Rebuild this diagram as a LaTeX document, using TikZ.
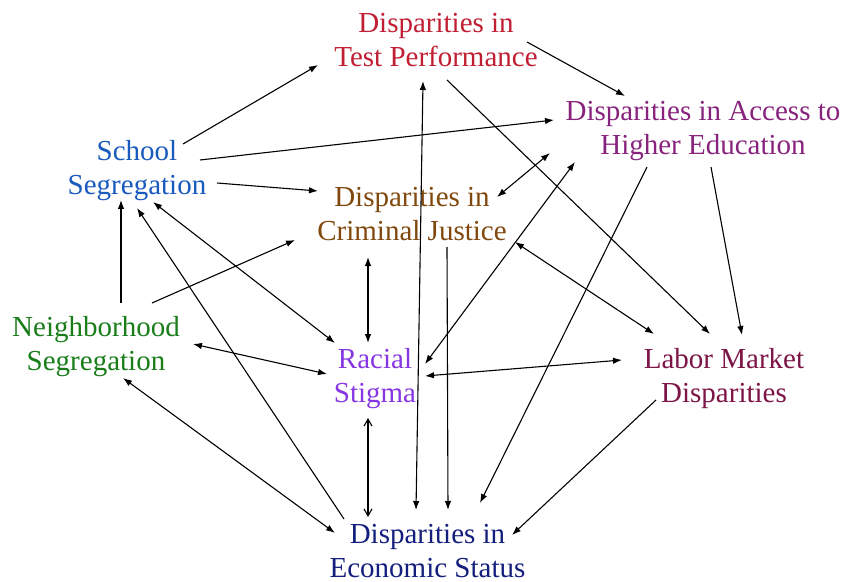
\documentclass[tikz,border=0pt]{standalone}
\usepackage{fontspec}
\setmainfont{Liberation Serif}
\usetikzlibrary{arrows.meta,calc}
\definecolor{cTP}{RGB}{192,30,50}
\definecolor{cAHE}{RGB}{135,35,125}
\definecolor{cSS}{RGB}{25,90,190}
\definecolor{cCJ}{RGB}{128,72,12}
\definecolor{cNS}{RGB}{25,125,25}
\definecolor{cRS}{RGB}{135,55,225}
\definecolor{cLM}{RGB}{125,20,70}
\definecolor{cES}{RGB}{20,30,125}
\tikzset{
  lbl/.style={align=center,inner sep=0pt,font=\fontsize{29bp}{34bp}\selectfont},
  conn/.style={line width=1.1bp,-{Latex[length=9bp,width=6.5bp]}},
  bconn/.style={line width=1.1bp,{Latex[length=9bp,width=6.5bp]}-{Latex[length=9bp,width=6.5bp]}},
  oconn/.style={line width=1.1bp,{Straight Barb[length=7bp,width=8bp]}-{Straight Barb[length=7bp,width=8bp]}}
}
\begin{document}
\begin{tikzpicture}[x=1bp,y=-1bp]
\useasboundingbox (0,0) rectangle (845,582);
\node[lbl,text=cTP]  (TP)  at (436,40.5) {Disparities in\\Test Performance};
\node[lbl,text=cAHE] (AHE) at (703,131.5) {Disparities in Access to\\Higher Education};
\node[lbl,text=cSS]  (SS)  at (137,171) {School\\Segregation};
\node[lbl,text=cCJ]  (CJ)  at (412,214.5) {Disparities in\\Criminal Justice};
\node[lbl,text=cNS]  (NS)  at (96,347) {Neighborhood\\Segregation};
\node[lbl,text=cRS]  (RS)  at (375,378.5) {Racial\\Stigma};
\node[lbl,text=cLM]  (LM)  at (724,379) {Labor Market\\Disparities};
\node[lbl,text=cES]  (ES)  at (427.5,551) {Disparities in\\Economic Status};

% one-way
\draw[conn] ($(SS)+(46,-27)$) -- ($(TP)+(-118,24.5)$);
\draw[conn] ($(TP)+(91,1.5)$) -- ($(AHE)+(-78,-35.5)$);
\draw[conn] ($(SS)+(63,-11)$) -- ($(AHE)+(-149,-11.5)$);
\draw[conn] ($(SS)+(80,12)$) -- ($(CJ)+(-94,-23.5)$);
\draw[conn] ($(TP)+(11,39.5)$) -- ($(LM)+(-14,-45)$);
\draw[conn] ($(CJ)+(35,32.5)$) -- ($(ES)+(20.5,-41)$);
\draw[conn] ($(AHE)+(-56,35.5)$) -- ($(ES)+(52.5,-48)$);
\draw[conn] ($(AHE)+(8,35.5)$) -- ($(LM)+(18,-44)$);
\draw[conn] ($(NS)+(25,-44)$) -- ($(SS)+(-16,29)$);
\draw[conn] ($(NS)+(56,-44)$) -- ($(CJ)+(-117,25.5)$);
\draw[conn] ($(ES)+(-83.5,-32)$) -- ($(SS)+(0,37)$);
\draw[conn] ($(LM)+(-68,21)$) -- ($(ES)+(84.5,-16)$);
% two-way
\draw[bconn] ($(TP)+(-13,40.5)$) -- ($(ES)+(-11.5,-41)$);
\draw[bconn] ($(SS)+(16,31)$) -- ($(RS)+(-40,-35.5)$);
\draw[bconn] ($(NS)+(97,-3)$) -- ($(RS)+(-48,-4.5)$);
\draw[bconn] ($(NS)+(27,31)$) -- ($(ES)+(-92.5,-18)$);
\draw[bconn] ($(CJ)+(-44,42.5)$) -- ($(RS)+(-7,-35.5)$);
\draw[bconn] ($(CJ)+(85,-17.5)$) -- ($(AHE)+(-153,21.5)$);
\draw[bconn] ($(RS)+(50,-14.5)$) -- ($(AHE)+(-128,30.5)$);
\draw[bconn] ($(CJ)+(103,27.5)$) -- ($(LM)+(-70,-45)$);
\draw[bconn] ($(RS)+(50,-2.5)$) -- ($(LM)+(-102,-19)$);
\draw[oconn] ($(RS)+(-7,39.5)$) -- ($(ES)+(-59.5,-34)$);
\end{tikzpicture}
\end{document}
